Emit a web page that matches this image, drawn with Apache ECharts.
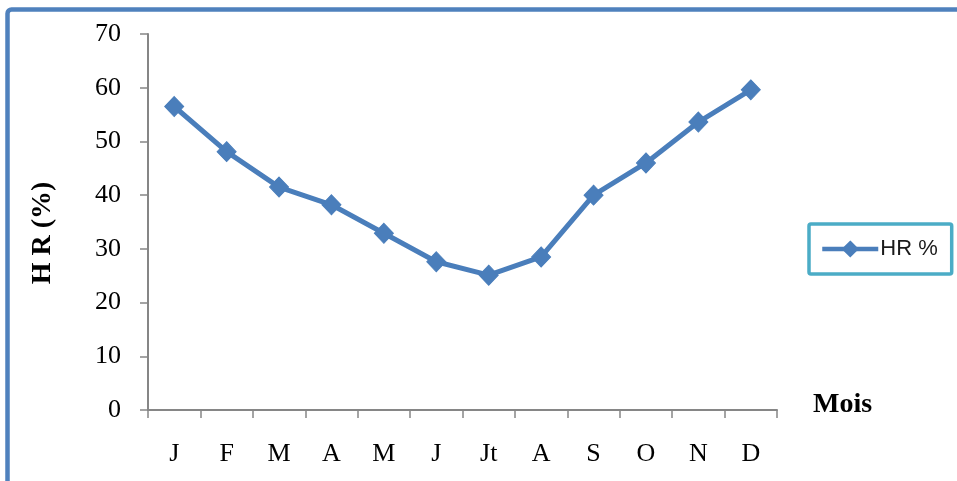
<!DOCTYPE html>
<html>
<head>
<meta charset="utf-8">
<script src="https://cdn.jsdelivr.net/npm/echarts@6/dist/echarts.min.js"></script>
<style>
  html, body { margin: 0; padding: 0; background: #ffffff; }
  #chart { width: 957px; height: 481px; }
</style>
</head>
<body>
<div id="chart"></div>
<script>
// Monthly relative humidity (HR, %)
const months = ['J', 'F', 'M', 'A', 'M', 'J', 'Jt', 'A', 'S', 'O', 'N', 'D'];
const hrValues = [56.5, 48.1, 41.5, 38.2, 32.9, 27.6, 25.1, 28.5, 40.0, 46.0, 53.6, 59.6];
const seriesName = 'HR %';
const yTitle = 'H R (%)';
const xTitle = 'Mois';

const blue = '#4A7EBB';
const axisGray = '#868686';
const serif = '"Liberation Serif", "Times New Roman", serif';

const chart = echarts.init(document.getElementById('chart'), null, { renderer: 'canvas' });

chart.setOption({
  backgroundColor: '#ffffff',
  animation: false,
  graphic: [
    {
      // outer frame of the chart area (runs past the right and bottom edges)
      type: 'rect',
      shape: { x: 7.5, y: 9.5, width: 1000, height: 600, r: 4 },
      style: { fill: 'none', stroke: '#4F81BD', lineWidth: 4.5 },
      silent: true,
      z: -1
    }
  ],
  grid: { left: 148, right: 180, top: 34, bottom: 71, containLabel: false },
  legend: {
    data: [seriesName],
    left: 809,
    top: 224,
    orient: 'vertical',
    padding: [14, 14, 14, 11],
    itemWidth: 56,
    itemHeight: 18,
    itemGap: 6,
    borderColor: '#4BACC6',
    borderWidth: 3.5,
    borderRadius: 2,
    lineStyle: { width: 4.5 },
    textStyle: {
      fontFamily: '"Liberation Sans", Arial, sans-serif',
      fontSize: 22,
      color: '#1a1a1a',
      padding: [0, 14, 0, -3]
    }
  },
  xAxis: {
    type: 'category',
    data: months,
    boundaryGap: true,
    name: xTitle,
    nameLocation: 'end',
    nameGap: 36,
    nameTextStyle: {
      fontFamily: serif,
      fontSize: 28,
      fontWeight: 'bold',
      color: '#000',
      verticalAlign: 'bottom',
      lineHeight: 10
    },
    axisLine: { lineStyle: { color: axisGray, width: 2 } },
    axisTick: { show: true, interval: 0, length: 8, lineStyle: { color: axisGray, width: 1.5 } },
    axisLabel: {
      interval: 0,
      margin: 31,
      fontFamily: serif,
      fontSize: 26,
      color: '#000'
    },
    splitLine: { show: false }
  },
  yAxis: {
    type: 'value',
    min: 0,
    max: 70,
    interval: 10,
    name: yTitle,
    nameLocation: 'middle',
    nameRotate: 90,
    nameGap: 91,
    nameTextStyle: {
      fontFamily: serif,
      fontSize: 28,
      fontWeight: 'bold',
      color: '#000',
      padding: [0, 22, 0, 0]
    },
    axisLine: { show: true, lineStyle: { color: axisGray, width: 2 } },
    axisTick: { show: true, length: 8, lineStyle: { color: axisGray, width: 1.5 } },
    axisLabel: {
      margin: 27,
      fontFamily: serif,
      fontSize: 26,
      color: '#000'
    },
    splitLine: { show: false }
  },
  series: [
    {
      name: seriesName,
      type: 'line',
      data: hrValues,
      symbol: 'diamond',
      symbolSize: [19, 20],
      showSymbol: true,
      lineStyle: { color: blue, width: 5 },
      itemStyle: { color: blue, borderColor: blue, borderWidth: 1 }
    }
  ]
});
</script>
</body>
</html>
